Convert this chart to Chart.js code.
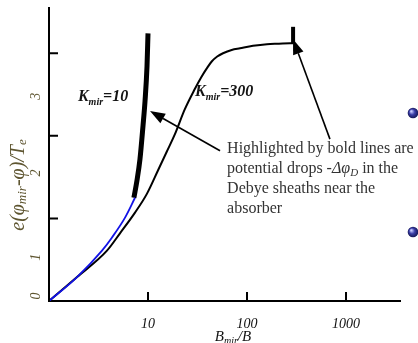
<!DOCTYPE html>
<html>
<head>
<meta charset="utf-8">
<script src="https://cdn.jsdelivr.net/npm/chart.js@4.4.0/dist/chart.umd.min.js"></script>
<style>
  html, body { margin: 0; padding: 0; background: #fff; }
  canvas { display: block; }
</style>
</head>
<body>
<canvas id="potChart" width="418" height="343"></canvas>
<script>
  // B_mir/B and e(phi_mir - phi)/Te
  var k10X = [1, 1.92, 3.43, 4.33, 5.86, 7.39];
  var k10Y = [0, 0.29, 0.61, 0.77, 1.01, 1.25];
  var k10SheathX = [7.2, 7.74, 8.3, 8.9, 9.33, 9.77, 10.0];
  var k10SheathY = [1.25, 1.46, 1.72, 2.12, 2.42, 2.84, 3.24];
  var k300X = [1, 1.92, 3.85, 5.21, 7.39, 9.77, 12.6, 15.5, 18.7, 23.5, 29.8, 34.5, 39.4, 44, 50, 57.2, 70, 85.0, 115, 159, 210, 272, 292];
  var k300Y = [0, 0.29, 0.61, 0.82, 1.07, 1.30, 1.58, 1.81, 2.02, 2.32, 2.57, 2.71, 2.82, 2.90, 2.96, 3.00, 3.04, 3.06, 3.09, 3.11, 3.115, 3.12, 3.12];
  var k300SheathX = [292, 292];
  var k300SheathY = [3.12, 3.32];

  var xTickValues = [10, 100, 1000];
  var yTickValues = [1, 2, 3];
  var yTickLabels = ['0', '1', '2', '3'];
  var yTickLabelAt = [0.06, 0.53, 1.55, 2.48];

  var serif = "'Liberation Serif', 'Times New Roman', serif";

  function pts(xs, ys) {
    return xs.map(function (x, i) { return { x: x, y: ys[i] }; });
  }

  function f(style, size) { return style + ' ' + size + 'px ' + serif; }

  // draw a run of text pieces (used for subscripts)
  function drawRich(ctx, x, y, parts, align) {
    var w = 0;
    parts.forEach(function (p) { ctx.font = p.f; w += ctx.measureText(p.t).width; });
    var cx = align === 'center' ? x - w / 2 : x;
    parts.forEach(function (p) {
      ctx.font = p.f;
      ctx.fillText(p.t, cx, y + (p.dy || 0));
      cx += ctx.measureText(p.t).width;
    });
  }

  function arrow(ctx, x0, y0, x1, y1) {
    var ang = Math.atan2(y1 - y0, x1 - x0), len = 15, hw = 5.5;
    var bx = x1 - len * Math.cos(ang), by = y1 - len * Math.sin(ang);
    ctx.beginPath();
    ctx.moveTo(x0, y0);
    ctx.lineTo(bx, by);
    ctx.stroke();
    ctx.beginPath();
    ctx.moveTo(x1, y1);
    ctx.lineTo(bx + hw * Math.sin(ang), by - hw * Math.cos(ang));
    ctx.lineTo(bx - hw * Math.sin(ang), by + hw * Math.cos(ang));
    ctx.closePath();
    ctx.fill();
  }

  function bullet(ctx, x, y) {
    var g = ctx.createRadialGradient(x - 1.8, y - 1.8, 0.5, x, y, 5.5);
    g.addColorStop(0, '#c9cbff');
    g.addColorStop(0.45, '#3c3fa8');
    g.addColorStop(1, '#13144f');
    ctx.fillStyle = g;
    ctx.beginPath();
    ctx.arc(x, y, 5.3, 0, Math.PI * 2);
    ctx.fill();
  }

  var figurePlugin = {
    id: 'figure',
    afterDraw: function (chart) {
      var ctx = chart.ctx, xs = chart.scales.x, ys = chart.scales.y, a = chart.chartArea;
      function px(v) { return xs.getPixelForValue(v); }
      function py(v) { return ys.getPixelForValue(v); }
      ctx.save();

      // y axis line and inward tick marks
      ctx.strokeStyle = '#000';
      ctx.lineWidth = 2;
      ctx.beginPath();
      ctx.moveTo(a.left, a.top);
      ctx.lineTo(a.left, a.bottom + 1);
      xTickValues.forEach(function (v) {
        ctx.moveTo(px(v), a.bottom);
        ctx.lineTo(px(v), a.bottom - 9);
      });
      yTickValues.forEach(function (v) {
        ctx.moveTo(a.left, py(v));
        ctx.lineTo(a.left + 9, py(v));
      });
      ctx.stroke();

      // rotated y labels, placed as in the original figure
      ctx.fillStyle = '#5e5530';
      ctx.textAlign = 'center';
      ctx.textBaseline = 'middle';
      yTickLabels.forEach(function (t, i) {
        ctx.save();
        ctx.translate(36, py(yTickLabelAt[i]));
        ctx.rotate(-Math.PI / 2);
        ctx.font = f('italic', 14);
        ctx.fillText(t, 0, 0);
        ctx.restore();
      });

      // y title
      ctx.save();
      ctx.translate(19, 185);
      ctx.rotate(-Math.PI / 2);
      ctx.textAlign = 'left';
      drawRich(ctx, 0, 0, [
        { t: 'e(\u03C6', f: f('italic', 20) },
        { t: 'mir', f: f('italic', 13), dy: 4 },
        { t: '-\u03C6)/T', f: f('italic', 20) },
        { t: 'e', f: f('italic', 13), dy: 4 }
      ], 'center');
      ctx.restore();

      // x title
      ctx.fillStyle = '#111';
      ctx.textAlign = 'left';
      ctx.textBaseline = 'alphabetic';
      drawRich(ctx, 233, 341, [
        { t: 'B', f: f('italic', 15) },
        { t: 'mir', f: f('italic', 10), dy: 3 },
        { t: '/B', f: f('italic', 15) }
      ], 'center');

      // curve labels
      ctx.fillStyle = '#141414';
      drawRich(ctx, px(1.96), py(2.42), [
        { t: 'K', f: f('bold italic', 16) },
        { t: 'mir', f: f('bold italic', 10), dy: 4 },
        { t: '=10', f: f('bold italic', 16) }
      ], 'left');
      drawRich(ctx, px(29.9), py(2.48), [
        { t: 'K', f: f('bold italic', 16) },
        { t: 'mir', f: f('bold italic', 10), dy: 4 },
        { t: '=300', f: f('bold italic', 16) }
      ], 'left');

      // note text
      ctx.fillStyle = '#333';
      ctx.textBaseline = 'middle';
      var nx = px(62.9), ny = py(1.84), lh = 19.8;
      drawRich(ctx, nx, ny, [{ t: 'Highlighted by bold lines are', f: f('normal', 16) }], 'left');
      drawRich(ctx, nx, ny + lh, [
        { t: 'potential drops -', f: f('normal', 16) },
        { t: '\u0394\u03C6', f: f('italic', 16) },
        { t: 'D', f: f('italic', 11), dy: 4 },
        { t: ' in the', f: f('normal', 16) }
      ], 'left');
      drawRich(ctx, nx, ny + 2 * lh, [{ t: 'Debye sheaths near the', f: f('normal', 16) }], 'left');
      drawRich(ctx, nx, ny + 3 * lh, [{ t: 'absorber', f: f('normal', 16) }], 'left');

      // arrows to the bold segments
      ctx.strokeStyle = '#000';
      ctx.fillStyle = '#000';
      ctx.lineWidth = 1.6;
      arrow(ctx, px(53.4), py(1.82), px(10.48), py(2.30));
      arrow(ctx, px(688), py(1.96), px(292), py(3.17));

      // slide bullets at the right edge
      bullet(ctx, 413, 113);
      bullet(ctx, 413, 232);

      ctx.restore();
    }
  };

  var ctx = document.getElementById('potChart').getContext('2d');
  var potChart = new Chart(ctx, {
    type: 'line',
    data: {
      datasets: [{
          label: 'Kmir=300',
          data: pts(k300X, k300Y),
          borderColor: '#000',
          borderWidth: 2,
          pointRadius: 0,
          cubicInterpolationMode: 'monotone',
          order: 3
        },
        {
          label: 'Kmir=10',
          data: pts(k10X, k10Y),
          borderColor: '#1212e6',
          borderWidth: 1.8,
          pointRadius: 0,
          cubicInterpolationMode: 'monotone',
          order: 0
        },
        {
          label: 'Kmir=10 sheath',
          data: pts(k10SheathX, k10SheathY),
          borderColor: '#000',
          borderWidth: 5,
          pointRadius: 0,
          cubicInterpolationMode: 'monotone',
          order: 1
        },
        {
          label: 'Kmir=300 sheath',
          data: pts(k300SheathX, k300SheathY),
          borderColor: '#000',
          borderWidth: 4,
          pointRadius: 0,
          tension: 0,
          order: 1
        }
      ]
    },
    options: {
      responsive: false,
      animation: false,
      layout: { padding: { left: 49, top: 7, right: 18, bottom: 0 } },
      plugins: {
        legend: { display: false },
        tooltip: { enabled: false }
      },
      scales: {
        x: {
          type: 'logarithmic',
          min: 1,
          max: 3510,
          afterBuildTicks: function (scale) {
            scale.ticks = xTickValues.map(function (v) { return { value: v }; });
          },
          afterFit: function (scale) { scale.height = 42; },
          grid: { display: false, drawTicks: false },
          border: { display: true, color: '#000', width: 2 },
          ticks: {
            padding: 15,
            autoSkip: false,
            maxRotation: 0,
            color: '#111',
            font: { family: serif, size: 14, style: 'italic' },
            callback: function (v) { return String(v); }
          }
        },
        y: {
          type: 'linear',
          min: 0,
          max: 3.56,
          display: false
        }
      }
    },
    plugins: [figurePlugin]
  });
</script>
</body>
</html>
